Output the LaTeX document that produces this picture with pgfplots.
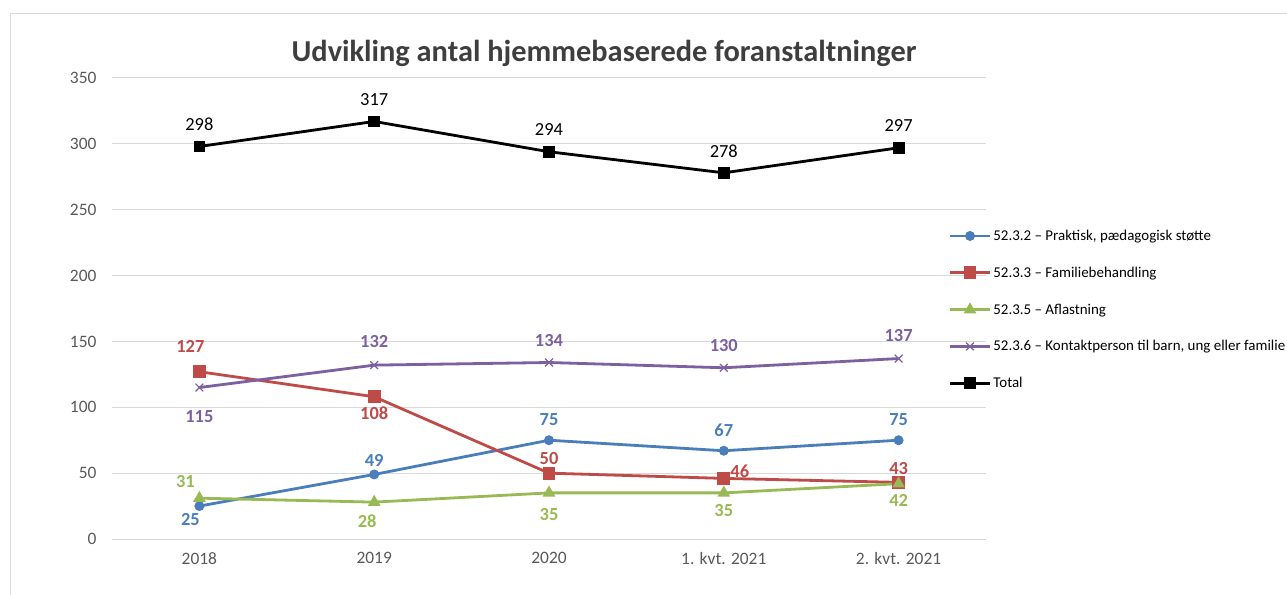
\documentclass[border=0pt]{standalone}
\usepackage{fontspec}
\setmainfont{Carlito}
\usepackage{pgfplots}
\usepackage{pgfplotstable}
\pgfplotsset{compat=1.18}

\definecolor{cblue}{HTML}{4A7EBB}
\definecolor{cred}{HTML}{BE4B48}
\definecolor{cgreen}{HTML}{98B954}
\definecolor{cpurple}{HTML}{7D60A0}
\definecolor{lblue}{HTML}{3F6DAA}
\definecolor{lred}{HTML}{B01E1E}
\definecolor{lgreen}{HTML}{9BBB59}
\definecolor{lpurple}{HTML}{5A4678}
\definecolor{tickgray}{HTML}{595959}
\definecolor{gridgray}{HTML}{D9D9D9}

% x y dx dy  (dx, dy = label offset in bp)
\pgfplotstableread{
x y dx dy
0 25 -9 -13
1 49 0 14
2 75 0 21
3 67 0 20
4 75 0 21
}\praktisk
\pgfplotstableread{
x y dx dy
0 127 -9 25
1 108 0 -16
2 50 0 15
3 46 16 7
4 43 0 14
}\familie
\pgfplotstableread{
x y dx dy
0 31 -14 17
1 28 -7 -19
2 35 0 -22
3 35 0 -18
4 42 0 -17
}\aflast
\pgfplotstableread{
x y dx dy
0 115 0 -29
1 132 0 24
2 134 0 22
3 130 0 22
4 137 0 23
}\kontakt
\pgfplotstableread{
x y dx dy
0 298 0 22
1 317 0 22
2 294 0 22
3 278 0 22
4 297 0 22
}\total

\pgfplotsset{
  lbl/.style={
    nodes near coords,
    visualization depends on={\thisrow{dx}\as\myDX},
    visualization depends on={\thisrow{dy}\as\myDY},
    every node near coord/.append style={anchor=center, inner sep=0pt,
      xshift=\myDX bp, yshift=\myDY bp, font=\fontsize{18.5}{22}\selectfont#1},
  },
}

\begin{document}
\begin{tikzpicture}
\path[use as bounding box] (0,0) rectangle (1287bp,595bp);
\draw[gridgray, line width=1bp] (10bp,0) -- (10bp,581bp) -- (1287bp,581bp);
\begin{axis}[
  scale only axis,
  width=874bp, height=461bp,
  at={(112bp,56bp)}, anchor=south west,
  xmin=-0.5, xmax=4.5, ymin=0, ymax=350,
  xtick={0,1,2,3,4},
  xticklabels={2018,2019,2020,1. kvt. 2021,2. kvt. 2021},
  ytick={0,50,...,350},
  axis line style={draw=none},
  tick style={draw=none},
  ymajorgrids,
  grid style={gridgray, line width=1bp},
  /pgf/number format/assume math mode=true,
  ticklabel style={font=\fontsize{17.5}{20}\selectfont, text=tickgray},
  yticklabel style={xshift=-12bp},
  xticklabel style={yshift=-10bp},
  title={\textbf{Udvikling antal hjemmebaserede foranstaltninger}},
  title style={at={(0.563,1.04)}, anchor=center, font=\fontsize{30.5}{36}\selectfont, text=tickgray!70!black},
  legend style={at={(0.957,0.675)}, anchor=north west, draw=none, fill=none,
    font=\fontsize{15}{18}\selectfont, row sep=21bp, inner sep=0pt},
  legend cell align=left,
  legend image code/.code={
    \draw[mark repeat=2, mark phase=2, #1] plot coordinates {(0bp,0bp) (20bp,0bp) (40bp,0bp)};
  },
  clip=false,
]
\addplot[cblue, line width=2.8bp, mark=*, mark size=3.5bp, lbl={\bfseries\color{lblue}}]
  table[x=x, y=y] {\praktisk};
\addlegendentry{52.3.2 – Praktisk, pædagogisk støtte}
\addplot[cred, line width=2.8bp, mark=square*, mark size=5bp, lbl={\bfseries\color{lred}}]
  table[x=x, y=y] {\familie};
\addlegendentry{52.3.3 – Familiebehandling}
\addplot[cgreen, line width=2.8bp, mark=triangle*, mark size=4.5bp, lbl={\bfseries\color{lgreen}}]
  table[x=x, y=y] {\aflast};
\addlegendentry{52.3.5 – Aflastning}
\addplot[cpurple, line width=2.8bp, mark=x, mark size=5.5bp, mark options={line width=1.2bp}, lbl={\bfseries\color{lpurple}}]
  table[x=x, y=y] {\kontakt};
\addlegendentry{52.3.6 – Kontaktperson til barn, ung eller familie}
\addplot[black, line width=2.8bp, mark=square*, mark size=4.5bp, lbl={\color{black}}]
  table[x=x, y=y] {\total};
\addlegendentry{Total}
\end{axis}
\end{tikzpicture}
\end{document}
